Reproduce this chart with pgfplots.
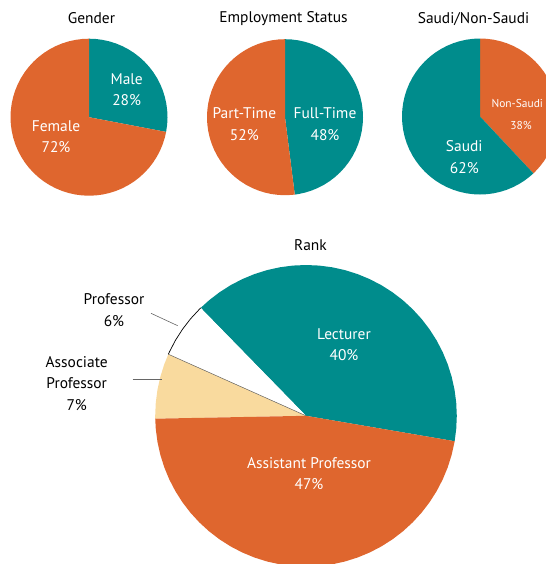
\documentclass[border=0pt]{standalone}
\usepackage{pgfplots}
\pgfplotsset{compat=1.18}
\usepackage{fontspec}
\setmainfont{PT Sans}
\definecolor{myteal}{HTML}{008C8C}
\definecolor{myorange}{HTML}{DF662E}
\definecolor{mybeige}{HTML}{F9DA9E}
\pgfplotsset{pie/.style={hide axis, anchor=center, xmin=-1, xmax=1, ymin=-1, ymax=1, clip=false, data cs=polar}}
\begin{document}
\begin{tikzpicture}[font=\fontsize{15.5}{17}\selectfont]
\useasboundingbox (0,0) rectangle (546bp,-564bp);
\clip (0,0) rectangle (546bp,-564bp);
% ---------------- Gender
\begin{axis}[pie, x=78.5bp, y=78.5bp, at={(89bp,-117.2bp)}]
% Male 28%
\addplot[fill=myteal, draw=none] coordinates {(0,0) (-10.8,1) (-5,1) (0,1) (5,1) (10,1) (15,1) (20,1) (25,1) (30,1) (35,1) (40,1) (45,1) (50,1) (55,1) (60,1) (65,1) (70,1) (75,1) (80,1) (85,1) (90,1)} -- cycle;
% Female 72%
\addplot[fill=myorange, draw=none] coordinates {(0,0) (90,1) (95,1) (100,1) (105,1) (110,1) (115,1) (120,1) (125,1) (130,1) (135,1) (140,1) (145,1) (150,1) (155,1) (160,1) (165,1) (170,1) (175,1) (180,1) (185,1) (190,1) (195,1) (200,1) (205,1) (210,1) (215,1) (220,1) (225,1) (230,1) (235,1) (240,1) (245,1) (250,1) (255,1) (260,1) (265,1) (270,1) (275,1) (280,1) (285,1) (290,1) (295,1) (300,1) (305,1) (310,1) (315,1) (320,1) (325,1) (330,1) (335,1) (340,1) (345,1) (349.2,1)} -- cycle;
\end{axis}
% ---------------- Employment Status
\begin{axis}[pie, x=78bp, y=78bp, at={(285bp,-117.2bp)}]
% Full-Time 48%
\addplot[fill=myteal, draw=none] coordinates {(0,0) (-82.8,1) (-80,1) (-75,1) (-70,1) (-65,1) (-60,1) (-55,1) (-50,1) (-45,1) (-40,1) (-35,1) (-30,1) (-25,1) (-20,1) (-15,1) (-10,1) (-5,1) (0,1) (5,1) (10,1) (15,1) (20,1) (25,1) (30,1) (35,1) (40,1) (45,1) (50,1) (55,1) (60,1) (65,1) (70,1) (75,1) (80,1) (85,1) (90,1)} -- cycle;
% Part-Time 52%
\addplot[fill=myorange, draw=none] coordinates {(0,0) (90,1) (95,1) (100,1) (105,1) (110,1) (115,1) (120,1) (125,1) (130,1) (135,1) (140,1) (145,1) (150,1) (155,1) (160,1) (165,1) (170,1) (175,1) (180,1) (185,1) (190,1) (195,1) (200,1) (205,1) (210,1) (215,1) (220,1) (225,1) (230,1) (235,1) (240,1) (245,1) (250,1) (255,1) (260,1) (265,1) (270,1) (275,1) (277.2,1)} -- cycle;
\end{axis}
% ---------------- Saudi/Non-Saudi
\begin{axis}[pie, x=78bp, y=78bp, at={(480bp,-116.5bp)}]
% Non-Saudi 38%
\addplot[fill=myorange, draw=none] coordinates {(0,0) (-46.8,1) (-45,1) (-40,1) (-35,1) (-30,1) (-25,1) (-20,1) (-15,1) (-10,1) (-5,1) (0,1) (5,1) (10,1) (15,1) (20,1) (25,1) (30,1) (35,1) (40,1) (45,1) (50,1) (55,1) (60,1) (65,1) (70,1) (75,1) (80,1) (85,1) (90,1)} -- cycle;
% Saudi 62%
\addplot[fill=myteal, draw=none] coordinates {(0,0) (90,1) (95,1) (100,1) (105,1) (110,1) (115,1) (120,1) (125,1) (130,1) (135,1) (140,1) (145,1) (150,1) (155,1) (160,1) (165,1) (170,1) (175,1) (180,1) (185,1) (190,1) (195,1) (200,1) (205,1) (210,1) (215,1) (220,1) (225,1) (230,1) (235,1) (240,1) (245,1) (250,1) (255,1) (260,1) (265,1) (270,1) (275,1) (280,1) (285,1) (290,1) (295,1) (300,1) (305,1) (310,1) (313.2,1)} -- cycle;
\end{axis}
% ---------------- Rank
\begin{axis}[pie, x=150.8bp, y=150.8bp, at={(306bp,-415.8bp)}]
% Lecturer 40%
\addplot[fill=myteal, draw=none] coordinates {(0,0) (-9.7,1) (-5,1) (0,1) (5,1) (10,1) (15,1) (20,1) (25,1) (30,1) (35,1) (40,1) (45,1) (50,1) (55,1) (60,1) (65,1) (70,1) (75,1) (80,1) (85,1) (90,1) (95,1) (100,1) (105,1) (110,1) (115,1) (120,1) (125,1) (130,1) (134.3,1)} -- cycle;
% Professor 6%
\addplot[fill=white, draw=none] coordinates {(0,0) (134.3,1) (140,1) (145,1) (150,1) (155,1) (155.9,1)} -- cycle;
% Associate Professor 7%
\addplot[fill=mybeige, draw=none] coordinates {(0,0) (155.9,1) (160,1) (165,1) (170,1) (175,1) (180,1) (181.1,1)} -- cycle;
% Assistant Professor 47%
\addplot[fill=myorange, draw=none] coordinates {(0,0) (181.1,1) (185,1) (190,1) (195,1) (200,1) (205,1) (210,1) (215,1) (220,1) (225,1) (230,1) (235,1) (240,1) (245,1) (250,1) (255,1) (260,1) (265,1) (270,1) (275,1) (280,1) (285,1) (290,1) (295,1) (300,1) (305,1) (310,1) (315,1) (320,1) (325,1) (330,1) (335,1) (340,1) (345,1) (350,1) (350.3,1)} -- cycle;
% outline of the white slice
\addplot[black, line width=0.7bp] coordinates {(134.3,1) (140,1) (145,1) (150,1) (155,1) (155.9,1)};
\addplot[black!65, line width=0.45bp] coordinates {(0,0) (155.9,1)};
\end{axis}
% ---------------- titles
\node at (91.5bp,-18.5bp) {Gender};
\node at (283.5bp,-18.5bp) {Employment Status};
\node at (473.5bp,-19bp) {Saudi/Non-Saudi};
\node at (310.5bp,-245bp) {Rank};
% ---------------- slice labels
\begin{scope}[text=white]
\node at (126.7bp,-79bp) {Male};
\node at (126.7bp,-100.5bp) {28\%};
\node at (56bp,-125.7bp) {Female};
\node at (56bp,-147bp) {72\%};
\node at (244.3bp,-113.3bp) {Part-Time};
\node at (244.3bp,-135bp) {52\%};
\node at (325bp,-113.3bp) {Full-Time};
\node at (325bp,-135bp) {48\%};
\node[font=\fontsize{11.5}{13}\selectfont] at (517.3bp,-103.5bp) {Non-Saudi};
\node[font=\fontsize{11.5}{13}\selectfont] at (521bp,-125bp) {38\%};
\node at (464.3bp,-145.7bp) {Saudi};
\node at (464.3bp,-168.3bp) {62\%};
\node at (344bp,-334.3bp) {Lecturer};
\node at (344bp,-355bp) {40\%};
\node at (309bp,-463.3bp) {Assistant Professor};
\node at (309bp,-484.5bp) {47\%};
\end{scope}
% ---------------- outside labels and leader lines
\node at (114bp,-299bp) {Professor};
\node at (114bp,-320.7bp) {6\%};
\node at (76.7bp,-361.7bp) {Associate};
\node at (76.7bp,-383.5bp) {Professor};
\node at (76.7bp,-405bp) {7\%};
\draw[black!60, line width=0.6bp] (151bp,-313.3bp) -- (177.7bp,-325.7bp);
\draw[black!60, line width=0.6bp] (132.7bp,-379bp) -- (162.3bp,-379bp);
\end{tikzpicture}
\end{document}
